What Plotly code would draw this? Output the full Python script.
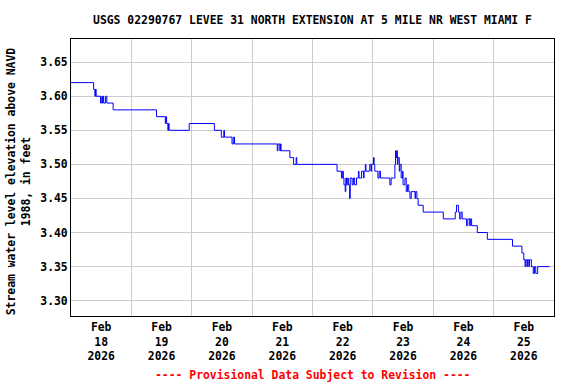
import plotly.graph_objects as go

title_text = "USGS 02290767 LEVEE 31 NORTH EXTENSION AT 5 MILE NR WEST MIAMI F"
y_title = "Stream water level elevation above NAVD<br>1988, in feet"
footer = "---- Provisional Data Subject to Revision ----"

times = [
    "2026-02-18 00:00", "2026-02-18 09:00", "2026-02-18 09:30", "2026-02-18 09:45",
    "2026-02-18 10:00", "2026-02-18 11:45", "2026-02-18 12:15", "2026-02-18 12:30",
    "2026-02-18 12:45", "2026-02-18 13:00", "2026-02-18 13:45", "2026-02-18 14:15",
    "2026-02-18 16:45", "2026-02-19 10:00", "2026-02-19 13:30", "2026-02-19 13:45",
    "2026-02-19 14:00", "2026-02-19 14:30", "2026-02-19 14:45", "2026-02-19 15:00",
    "2026-02-19 23:00", "2026-02-20 09:00", "2026-02-20 11:45", "2026-02-20 12:45",
    "2026-02-20 13:00", "2026-02-20 16:00", "2026-02-20 16:30", "2026-02-20 17:00",
    "2026-02-21 10:00", "2026-02-21 10:15", "2026-02-21 11:00", "2026-02-21 11:15",
    "2026-02-21 11:30", "2026-02-21 15:00", "2026-02-21 16:30", "2026-02-21 17:30",
    "2026-02-21 17:45", "2026-02-22 09:45", "2026-02-22 11:30", "2026-02-22 12:00",
    "2026-02-22 12:15", "2026-02-22 12:30", "2026-02-22 13:00", "2026-02-22 13:15",
    "2026-02-22 13:30", "2026-02-22 14:00", "2026-02-22 14:15", "2026-02-22 14:45",
    "2026-02-22 15:00", "2026-02-22 15:45", "2026-02-22 16:15", "2026-02-22 16:45",
    "2026-02-22 17:30", "2026-02-22 18:15", "2026-02-22 18:30", "2026-02-22 19:30",
    "2026-02-22 20:15", "2026-02-22 20:30", "2026-02-22 21:00", "2026-02-22 21:15",
    "2026-02-22 22:45", "2026-02-22 23:15", "2026-02-22 23:30", "2026-02-23 00:15",
    "2026-02-23 00:30", "2026-02-23 00:45", "2026-02-23 02:00", "2026-02-23 02:30",
    "2026-02-23 03:00", "2026-02-23 06:45", "2026-02-23 07:15", "2026-02-23 08:45",
    "2026-02-23 09:00", "2026-02-23 09:15", "2026-02-23 09:30", "2026-02-23 09:45",
    "2026-02-23 10:00", "2026-02-23 10:30", "2026-02-23 10:45", "2026-02-23 11:15",
    "2026-02-23 11:45", "2026-02-23 12:00", "2026-02-23 12:45", "2026-02-23 13:15",
    "2026-02-23 13:45", "2026-02-23 14:15", "2026-02-23 14:45", "2026-02-23 15:15",
    "2026-02-23 16:45", "2026-02-23 17:00", "2026-02-23 17:30", "2026-02-23 18:00",
    "2026-02-23 20:00", "2026-02-24 04:00", "2026-02-24 08:45", "2026-02-24 09:15",
    "2026-02-24 10:00", "2026-02-24 10:30", "2026-02-24 11:00", "2026-02-24 11:30",
    "2026-02-24 13:15", "2026-02-24 13:45", "2026-02-24 14:30", "2026-02-24 14:45",
    "2026-02-24 15:15", "2026-02-24 17:30", "2026-02-24 21:30", "2026-02-25 07:30",
    "2026-02-25 11:15", "2026-02-25 12:00", "2026-02-25 12:30", "2026-02-25 12:45",
    "2026-02-25 13:15", "2026-02-25 13:30", "2026-02-25 14:00", "2026-02-25 14:15",
    "2026-02-25 15:00", "2026-02-25 15:45", "2026-02-25 16:15", "2026-02-25 16:45",
    "2026-02-25 17:30", "2026-02-25 22:15",
]

levels = [
    3.62, 3.61, 3.60, 3.61,
    3.60, 3.59, 3.60, 3.59,
    3.60, 3.59, 3.60, 3.59,
    3.58, 3.57, 3.56, 3.57,
    3.56, 3.55, 3.56, 3.55,
    3.56, 3.55, 3.54, 3.55,
    3.54, 3.53, 3.54, 3.53,
    3.52, 3.53, 3.52, 3.53,
    3.52, 3.51, 3.50, 3.51,
    3.50, 3.49, 3.48, 3.49,
    3.48, 3.47, 3.46, 3.48,
    3.47, 3.48, 3.47, 3.45,
    3.48, 3.47, 3.48, 3.47,
    3.48, 3.49, 3.48, 3.49,
    3.48, 3.49, 3.50, 3.49,
    3.50, 3.49, 3.50, 3.51,
    3.50, 3.49, 3.48, 3.49,
    3.48, 3.47, 3.48, 3.50,
    3.52, 3.51, 3.52, 3.50,
    3.51, 3.49, 3.50, 3.48,
    3.49, 3.47, 3.48, 3.46,
    3.47, 3.46, 3.45, 3.46,
    3.45, 3.46, 3.45, 3.44,
    3.43, 3.42, 3.43, 3.44,
    3.43, 3.42, 3.43, 3.42,
    3.41, 3.42, 3.41, 3.42,
    3.41, 3.40, 3.39, 3.38,
    3.37, 3.36, 3.35, 3.36,
    3.35, 3.36, 3.35, 3.36,
    3.35, 3.34, 3.35, 3.34,
    3.35, 3.35,
]

FONT = "DejaVu Sans Mono"
FS = 11.4

fig = go.Figure()
fig.add_trace(go.Scatter(
    x=times, y=levels, mode="lines", line_shape="hv",
    line=dict(color="#0000ff", width=1), showlegend=False,
))

fig.update_layout(
    width=576, height=384,
    margin=dict(l=71, r=22, t=39, b=68, autoexpand=False),
    paper_bgcolor="white", plot_bgcolor="white",
    font=dict(family=FONT, size=FS, color="black", weight="bold"),
    title=dict(text="<b>" + title_text + "</b>", x=0.5, xref="paper",
               y=1 - 20 / 384, yref="container", yanchor="middle",
               xanchor="center",
               font=dict(family=FONT, size=FS, color="black", weight="bold")),
    xaxis=dict(
        type="date", range=["2026-02-18", "2026-02-26"],
        tick0="2026-02-18", dtick=86400000, ticklabelmode="period",
        tickformat="%b<br>%d<br>%Y", showgrid=True, gridcolor="#cccccc",
        gridwidth=1, showline=True, linecolor="black", linewidth=1,
        mirror=True, ticks="", zeroline=False, automargin=False,
    ),
    yaxis=dict(
        range=[3.2775, 3.684], tick0=3.30, dtick=0.05, tickformat=".2f",
        showgrid=True, gridcolor="#cccccc", gridwidth=1, showline=True,
        linecolor="black", linewidth=1, mirror=True, ticks="",
        zeroline=False, automargin=False,
    ),
    annotations=[
        dict(text=footer, xref="paper", yref="paper", x=0.5,
             y=1 - (375 - 39) / 277, xanchor="center", yanchor="middle",
             showarrow=False,
             font=dict(family=FONT, size=FS, color="#ff0000", weight="bold")),
        dict(text=y_title, xref="paper", yref="paper",
             x=(18.3 - 71) / 483, y=1 - (181 - 39) / 277, textangle=-90,
             xanchor="center", yanchor="middle", showarrow=False,
             font=dict(family=FONT, size=FS, color="black", weight="bold")),
    ],
)

fig.write_html("out.html", config={"displayModeBar": False},
               post_script="document.body.style.margin='0';")
